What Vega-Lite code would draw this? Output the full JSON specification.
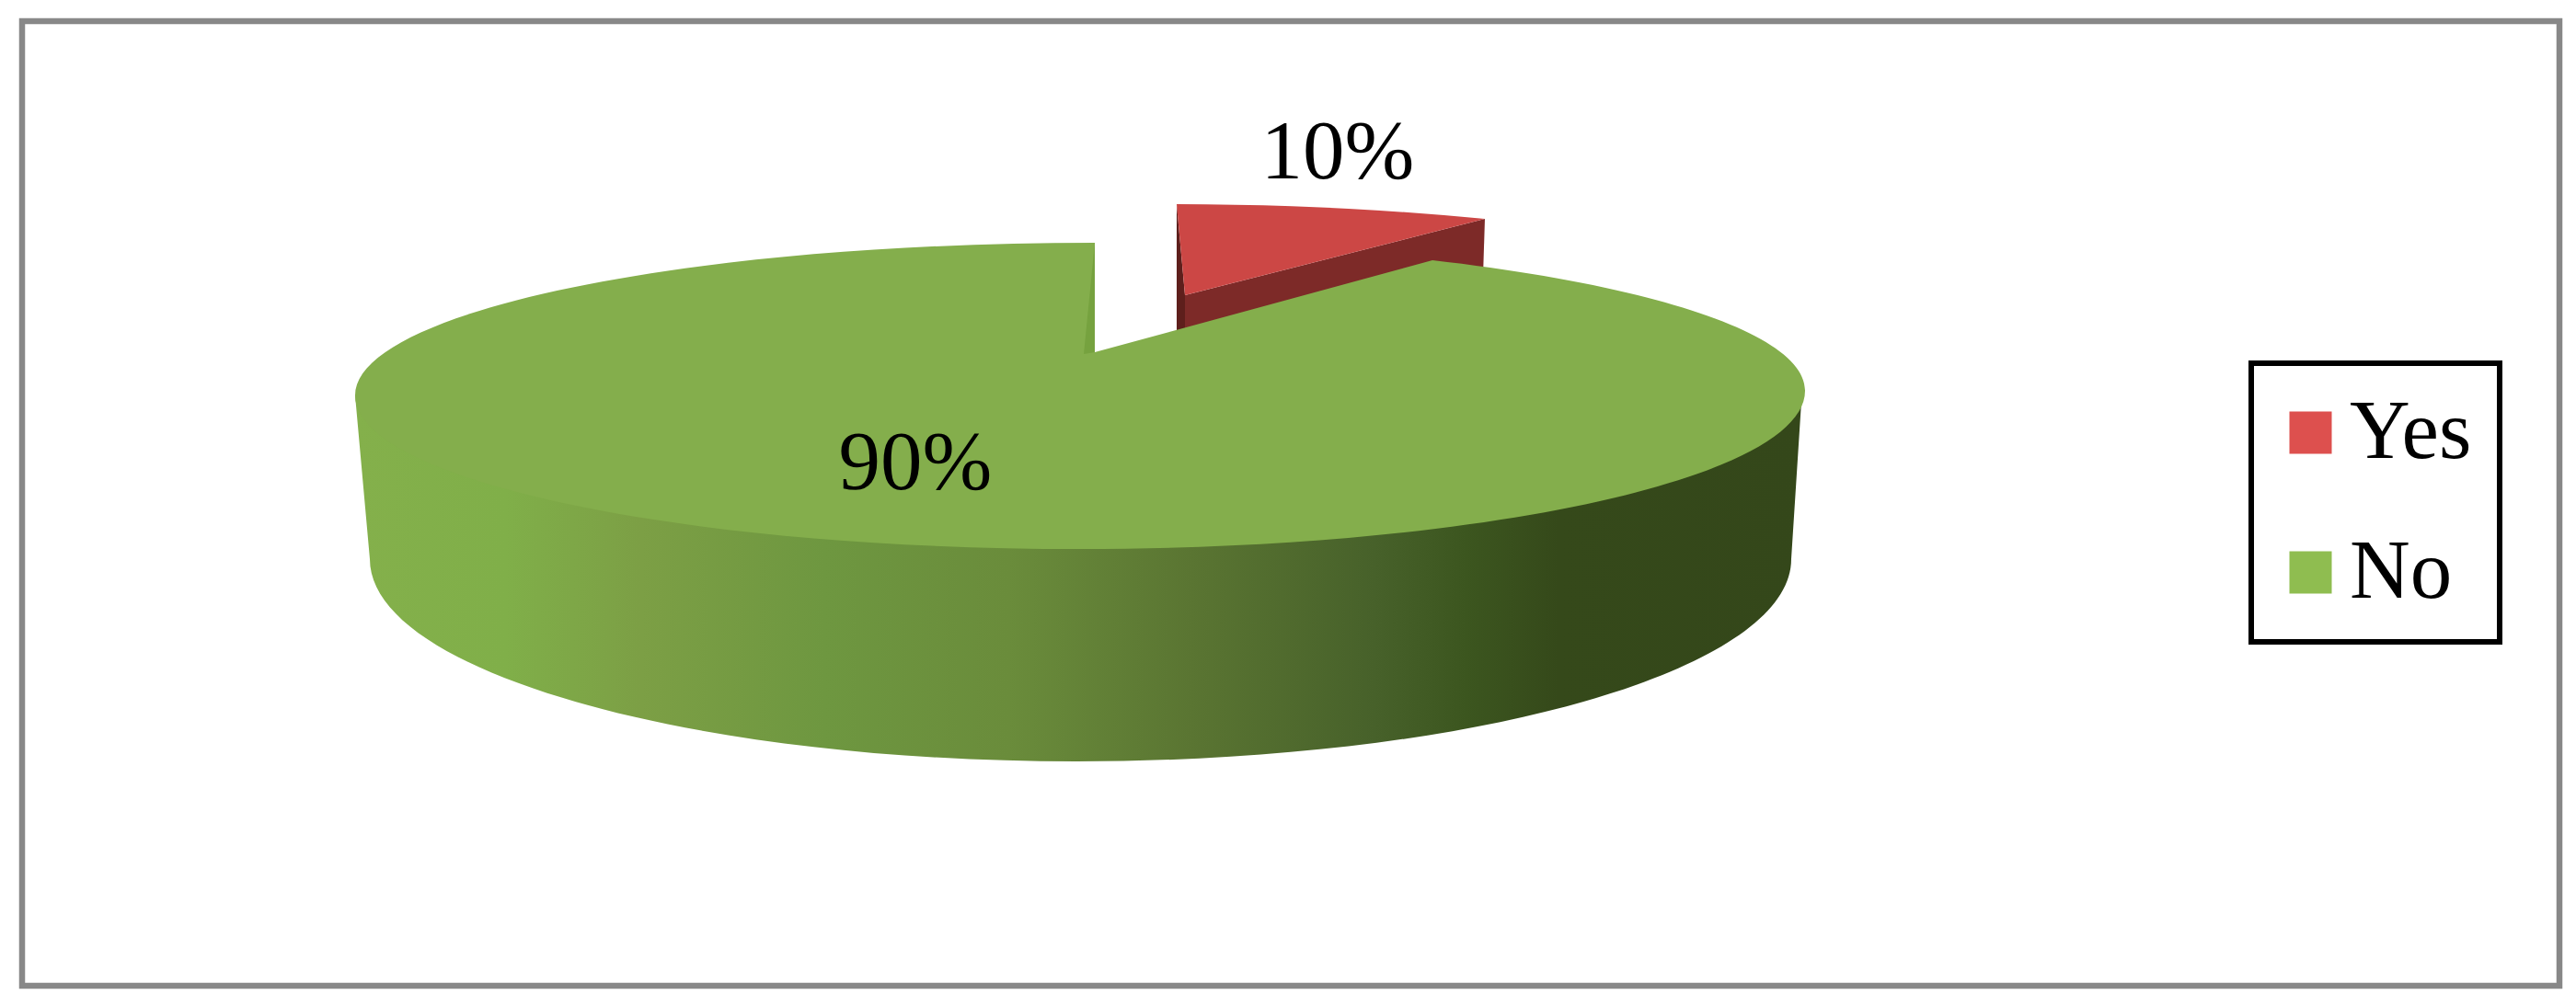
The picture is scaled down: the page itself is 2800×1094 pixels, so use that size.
{
"$schema":"https://vega.github.io/schema/vega-lite/v6.json",
"autosize":{"type":"none"},
"padding":{"left":24,"top":23,"right":18,"bottom":22},
"width":2758,"height":1049,
"background":"white",
"view":{"stroke":"#888888","strokeWidth":6.5},
"data":{"values":[{"category":"Yes","share":0.1},{"category":"No","share":0.9}]},
"layer":[
{"mark":{"type":"square","filled":true,"opacity":1,"size":1},
 "encoding":{
  "color":{"field":"category","type":"nominal","scale":{"domain":["Yes","No"],"range":["#DD504E","#8FBD50"]},
   "legend":{"title":null,"orient":"none","legendX":2423,"legendY":372,"padding":30,"fillColor":"white","strokeColor":"black","symbolType":"square","symbolSize":2116,"symbolStrokeWidth":0,"symbolOpacity":1,"symbolOffset":-11,"labelFont":"Liberation Serif","labelFontSize":91,"labelColor":"black","labelLimit":400,"labelOffset":-3,"rowPadding":60,
    "encode":{"legend":{"update":{"strokeWidth":{"value":6}}}}}}
 }},
{"transform":[{"filter":"datum.category === 'No'"}],
 "mark":{"type":"point","filled":true,"opacity":1,"size":4,"strokeWidth":0,"shape":"M-1017,-117.5L-1001,60.5A768,220,0,0,0,-233,280.5A777,220,0,0,0,544,60.5L555,-110.5Z",
 "fill":{"gradient":"linear","x1":0,"y1":0,"x2":1,"y2":0,"stops":[{"offset":0,"color":"#84B04B"},{"offset":0.104,"color":"#80AF49"},{"offset":0.198,"color":"#7C9F45"},{"offset":0.325,"color":"#6E9740"},{"offset":0.452,"color":"#6A8C3B"},{"offset":0.578,"color":"#5A7532"},{"offset":0.705,"color":"#47612A"},{"offset":0.768,"color":"#3C561F"},{"offset":0.832,"color":"#35491A"},{"offset":1,"color":"#34471A"}]}},
 "encoding":{"detail":{"field":"category"}}},
{"transform":[{"filter":"datum.category === 'Yes'"}],
 "mark":{"type":"point","filled":true,"opacity":1,"size":4,"strokeWidth":0,"fill":"#7D2A28","shape":"M-115,-226.5L211,-309.5L209,-247.5L-115,-147.5Z"},
 "encoding":{"detail":{"field":"category"}}},
{"transform":[{"filter":"datum.category === 'Yes'"}],
 "mark":{"type":"point","filled":true,"opacity":1,"size":4,"strokeWidth":0,"fill":"#5E1F1C","shape":"M-124,-325.5L-115,-226.5L-115,-147.5L-124,-147.5Z"},
 "encoding":{"detail":{"field":"category"}}},
{"transform":[{"filter":"datum.category === 'Yes'"}],
 "mark":{"type":"point","filled":true,"opacity":1,"size":4,"strokeWidth":0,"fill":"#CC4745","shape":"M-124,-325.5A788,160,0,0,1,211,-309.5L-115,-226.5Z"},
 "encoding":{"detail":{"field":"category"}}},
{"transform":[{"filter":"datum.category === 'No'"}],
 "mark":{"type":"point","filled":true,"opacity":1,"size":4,"strokeWidth":0,"fill":"#84AE4C","shape":"M-213,-283.5A804,166,0,0,0,-1017,-117.5A788,167,0,0,0,-229,49.5A788,172,0,0,0,559,-122.5A788,162,0,0,0,154,-264.5L-213,-164.5Z"},
 "encoding":{"detail":{"field":"category"}}},
{"transform":[{"filter":"datum.category === 'No'"}],
 "mark":{"type":"point","filled":true,"opacity":1,"size":4,"strokeWidth":0,"fill":"#76A23F","shape":"M-213,-283.5L-213,-164.5L-225,-162.5Z"},
 "encoding":{"detail":{"field":"category"}}},
{"transform":[{"filter":"datum.category === 'Yes'"}],
 "mark":{"type":"text","font":"Liberation Serif","fontSize":91,"color":"black","align":"center","baseline":"alphabetic","dx":51,"dy":-353.5},
 "encoding":{"text":{"field":"share","type":"quantitative","format":".0%"}}},
{"transform":[{"filter":"datum.category === 'No'"}],
 "mark":{"type":"text","font":"Liberation Serif","fontSize":91,"color":"black","align":"center","baseline":"alphabetic","dx":-408,"dy":-15.5},
 "encoding":{"text":{"field":"share","type":"quantitative","format":".0%"}}}
]
}
